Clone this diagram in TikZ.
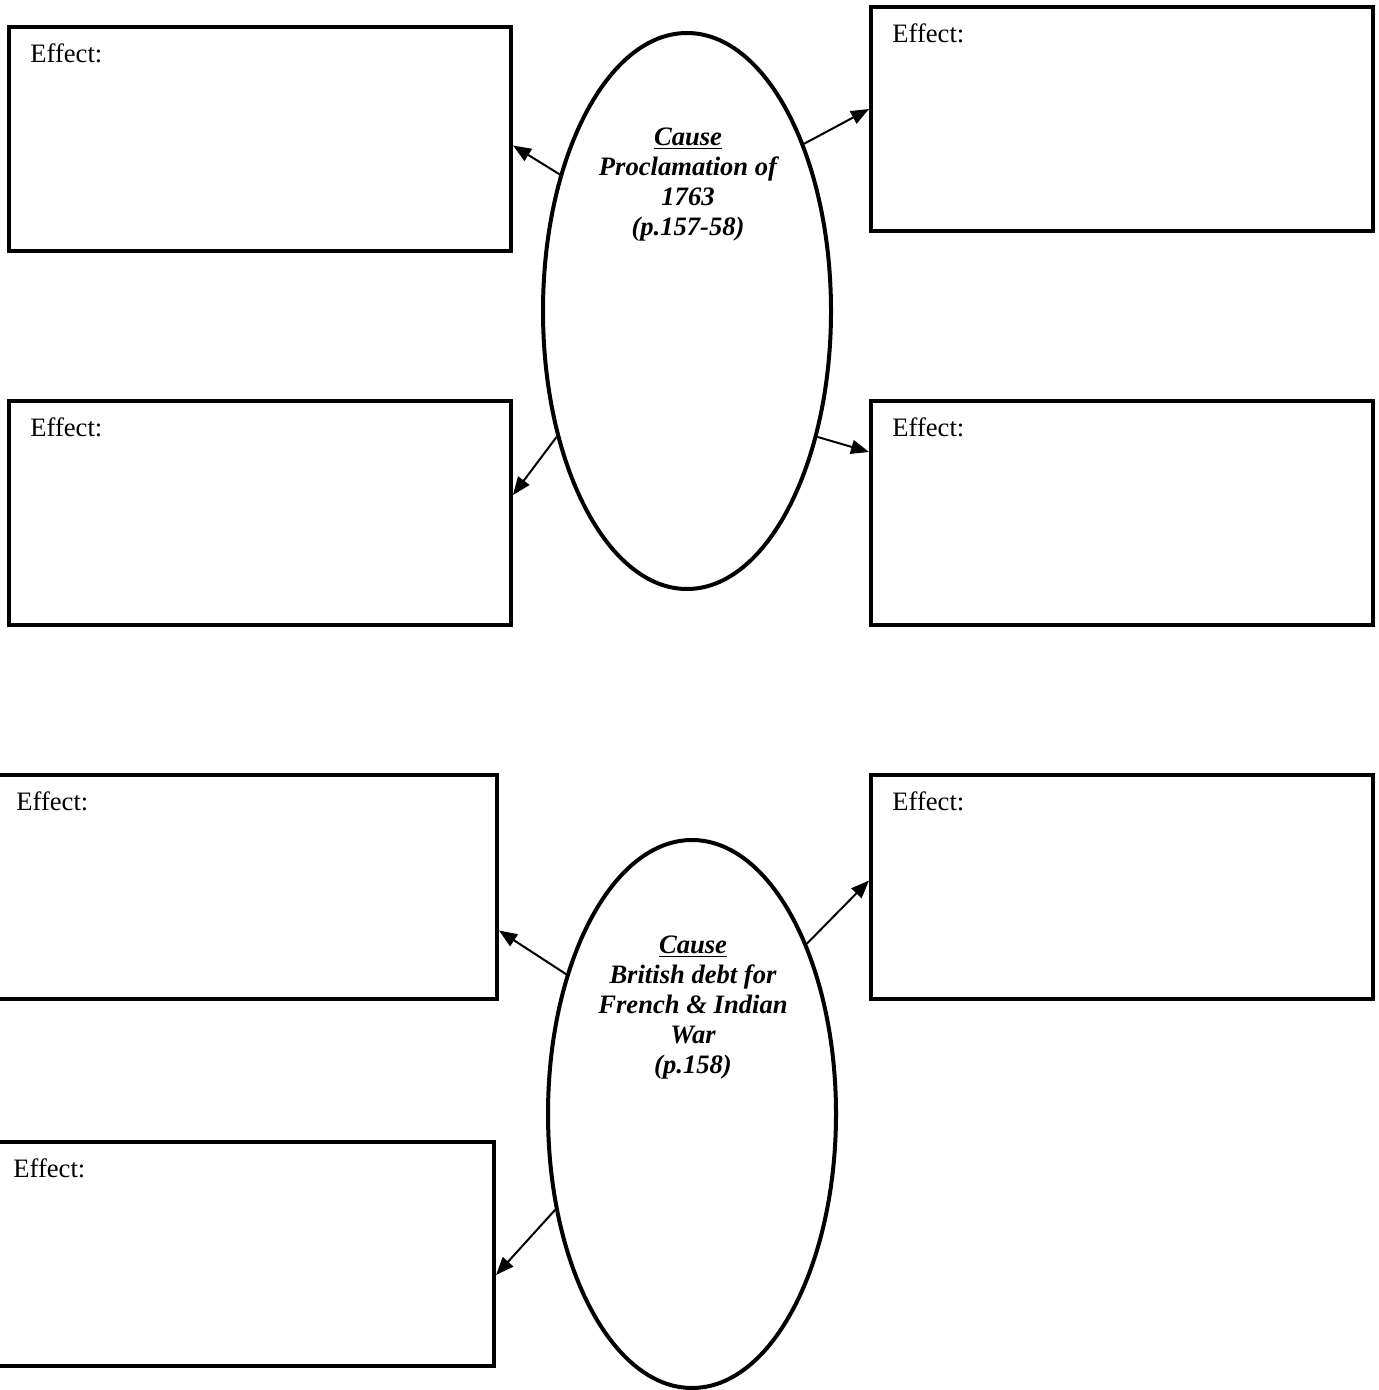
\documentclass[tikz,border=0pt]{standalone}
\usepackage{fontspec}
\setmainfont{Liberation Serif}
\usetikzlibrary{arrows.meta,calc,shapes.geometric}
\begin{document}
\begin{tikzpicture}[x=0.5pt,y=-0.5pt,
  box/.style={draw, line width=2pt, rectangle, minimum width=251pt, minimum height=112pt, anchor=north west, inner sep=0pt},
  cause/.style={draw, ellipse, line width=2pt, minimum width=144pt, inner sep=0pt},
  efftext/.style={anchor=north west, inner sep=0pt, font=\fontsize{13.3}{15}\selectfont},
  causetext/.style={anchor=north, inner sep=0pt, align=center, font=\fontsize{13.3}{15}\selectfont\bfseries\itshape},
  arr/.style={line width=1pt, -{Triangle[length=9pt,width=7pt]}}]
\useasboundingbox (0,0) rectangle (1378,1390);
% boxes
\node[box] (b1) at (7,25) {};
\node[box] (b2) at (869,5) {};
\node[box] (b3) at (7,399) {};
\node[box] (b4) at (869,399) {};
\node[box] (b5) at (-7,773) {};
\node[box] (b6) at (869,773) {};
\node[box] (b7) at (-10,1140) {};
% effect labels
\node[efftext] (t1) at ($(b1.north west)+(23,18)$) {Effect:};
\node[efftext] (t2) at ($(b2.north west)+(23,18)$) {Effect:};
\node[efftext] (t3) at ($(b3.north west)+(23,18)$) {Effect:};
\node[efftext] (t4) at ($(b4.north west)+(23,18)$) {Effect:};
\node[efftext] (t5) at ($(b5.north west)+(23,18)$) {Effect:};
\node[efftext] (t6) at ($(b6.north west)+(23,18)$) {Effect:};
\node[efftext] (t7) at ($(b7.north west)+(23,18)$) {Effect:};
% ellipses
\node[cause, minimum height=278pt] (e1) at (687,311) {};
\node[cause, minimum height=274pt] (e2) at (692,1114) {};
\node[causetext] (c1) at (688,127) {\underline{Cause}\\Proclamation of\\1763\\(p.157-58)};
\node[causetext] (c2) at (693,935) {\underline{Cause}\\British debt for\\French \& Indian\\War\\(p.158)};
% arrows
\draw[arr] (e1.133.7) -- ($(b1.east)+(0,6.5)$);
\draw[arr] (e1.55.7) -- ($(b2.west)+(0,-10)$);
\draw[arr] (e1.224.3) -- ($(b3.east)+(0,-18)$);
\draw[arr] (e1.-44.6) -- ($(b4.west)+(0,-61)$);
\draw[arr] (e2.132.9) -- ($(b5.east)+(0,43.5)$);
\draw[arr] (e2.56.1) -- ($(b6.west)+(0,-6.5)$);
\draw[arr] (e2.215.7) -- ($(b7.east)+(0,21)$);
\end{tikzpicture}
\end{document}
